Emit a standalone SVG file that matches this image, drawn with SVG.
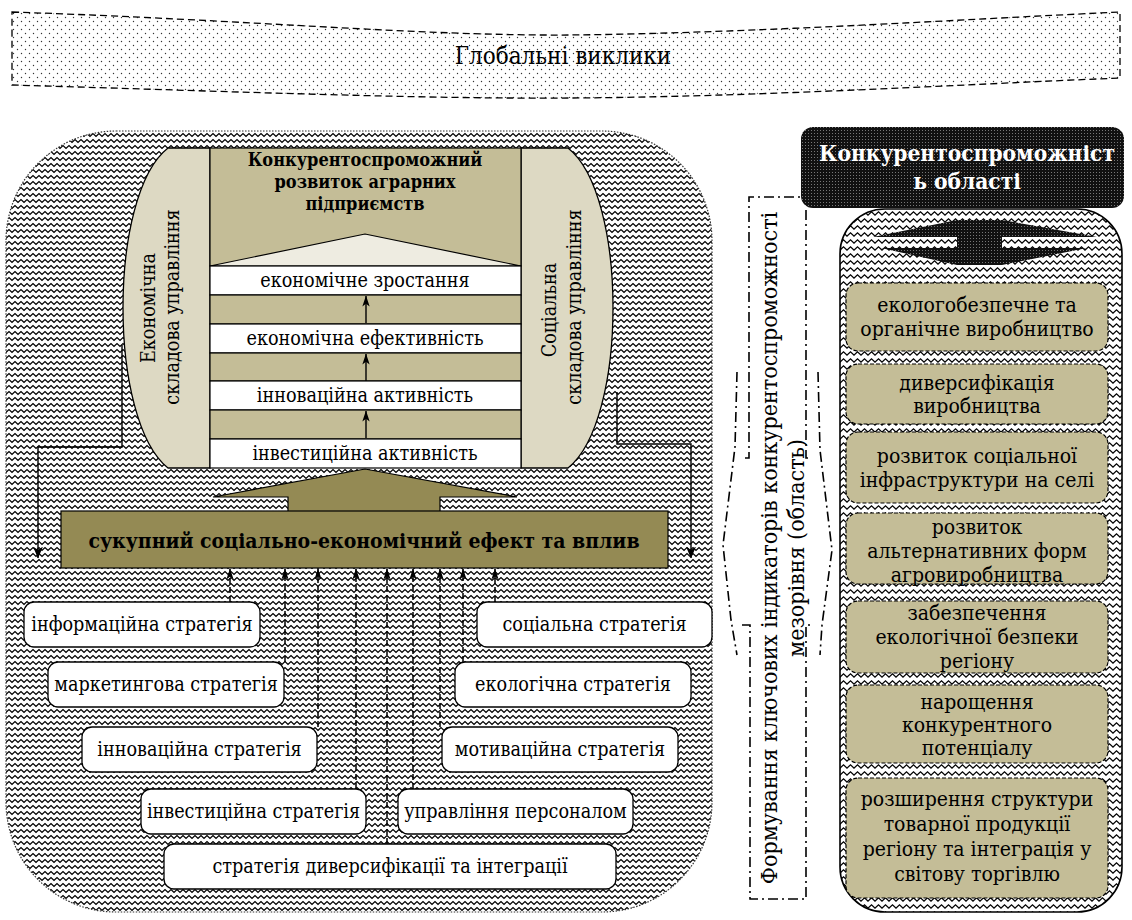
<svg xmlns="http://www.w3.org/2000/svg" width="1132" height="920" viewBox="0 0 1132 920" font-family="'DejaVu Serif Condensed', 'DejaVu Serif', serif">
<defs>
<style>
.t22{font-size:21px}
.tl{font-size:19.6px}
.b{font-weight:bold}
.mid{text-anchor:middle}
.strat{fill:#fff;stroke:#000;stroke-width:1.3}
.row{fill:#fff;stroke:#000;stroke-width:1.2}
.tan{fill:#c4bd97;stroke:#000;stroke-width:1.2}
.pill{fill:#ddd9c3;stroke:#000;stroke-width:1.3}
.rbox{fill:#c4bd97;stroke:#000;stroke-width:1.2;stroke-dasharray:4 2}
.dash{fill:none;stroke:#000;stroke-width:1.5;stroke-dasharray:6 3}
.solid{fill:none;stroke:#000;stroke-width:1.4}
.dd{fill:none;stroke:#000;stroke-width:1.6;stroke-dasharray:10 4 2 4}
</style>
<pattern id="dots" width="8" height="8" patternUnits="userSpaceOnUse">
<rect width="8" height="8" fill="#fff"/>
<circle cx="1.5" cy="1.5" r="0.7" fill="#333"/>
<circle cx="5.5" cy="5.5" r="0.7" fill="#333"/>
</pattern>
<pattern id="waveL" width="6" height="6" patternUnits="userSpaceOnUse">
<rect width="6" height="6" fill="#fff"/>
<path d="M-1.5,2.8 L0,4.4 L3,1.6 L6,4.4 L7.5,2.8" fill="none" stroke="#000" stroke-width="1.2"/>
</pattern>
<pattern id="waveR" width="7" height="7" patternUnits="userSpaceOnUse">
<rect width="7" height="7" fill="#fff"/>
<path d="M-1.75,3.2 L0,5.1 L3.5,1.9 L7,5.1 L8.75,3.2" fill="none" stroke="#000" stroke-width="1.2"/>
</pattern>
<pattern id="dark" width="3" height="3" patternUnits="userSpaceOnUse">
<rect width="3" height="3" fill="#111"/>
<rect x="1" y="1" width="1" height="1" fill="#777"/>
</pattern>
<marker id="ah" viewBox="0 0 12 10" refX="11.5" refY="5" markerWidth="12" markerHeight="10" markerUnits="userSpaceOnUse" orient="auto">
<path d="M0,0 L12,5 L0,10 L3.5,5 Z" fill="#000"/>
</marker>
<marker id="ahs" viewBox="0 0 12 8" refX="11.5" refY="4" markerWidth="11" markerHeight="8" markerUnits="userSpaceOnUse" orient="auto">
<path d="M0,0 L12,4 L0,8 L3,4 Z" fill="#000"/>
</marker>
</defs>

<rect width="1132" height="920" fill="#fff"/>

<g id="banner">
<path d="M12,12 C250,20 420,36 570,35 C750,33 950,20 1120,12 L1120,78 C950,85 750,97 570,98 C420,99 250,92 12,85 Z" fill="url(#dots)" stroke="#000" stroke-width="1.3" stroke-dasharray="7 4"/>
<text x="563" y="64" text-anchor="middle" font-size="24">Глобальні виклики</text>
</g>

<g id="left-panel">
<rect x="6" y="131" width="706" height="781" rx="110" fill="url(#waveL)" stroke="#333" stroke-width="1.2" stroke-dasharray="1.5 1.5"/>
</g>

<g id="pillar-econ">
<path class="pill" d="M210,148 H168 C108,195 108,420 168,468 H210 Z"/>
<text class="tl mid" transform="translate(155,308) rotate(-90)">Економічна</text>
<text class="tl mid" transform="translate(179,307) rotate(-90)">складова управління</text>
</g>

<g id="pillar-social">
<path class="pill" d="M521,148 H568 C628,195 628,420 568,468 H521 Z"/>
<text class="tl mid" transform="translate(556,310) rotate(-90)">Соціальна</text>
<text class="tl mid" transform="translate(581,307) rotate(-90)">складова управління</text>
</g>

<g id="center-column">
<rect x="210" y="148" width="311" height="118" fill="#c4bd97" stroke="#000" stroke-width="1.2"/>
<text x="365" y="166" class="mid b" font-size="18">Конкурентоспроможний</text>
<text x="365" y="188" class="mid b" font-size="18">розвиток аграрних</text>
<text x="365" y="210" class="mid b" font-size="18">підприємств</text>
<polygon points="210,266 365,234 521,266" fill="#eeece1" stroke="#000" stroke-width="1.2"/>
<rect class="row" x="210" y="266" width="311" height="29"/>
<text x="365" y="287" class="tl mid">економічне зростання</text>
<rect class="tan" x="210" y="295" width="311" height="29"/>
<rect class="row" x="210" y="324" width="311" height="29"/>
<text x="365" y="345" class="tl mid">економічна ефективність</text>
<rect class="tan" x="210" y="353" width="311" height="28"/>
<rect class="row" x="210" y="381" width="311" height="29"/>
<text x="365" y="402" class="tl mid">інноваційна активність</text>
<rect class="tan" x="210" y="410" width="311" height="29"/>
<rect class="row" x="210" y="439" width="311" height="29"/>
<text x="365" y="460" class="tl mid">інвестиційна активність</text>
</g>

<g id="effect">
<polygon points="213,497 365,469 517,497 440,497 440,512 288,512 288,497" fill="#948a54" stroke="#000" stroke-width="1.2"/>
<rect x="61" y="511" width="607" height="57" fill="#948a54" stroke="#000" stroke-width="1.2"/>
<text x="364" y="548" class="mid b" font-size="21">сукупний соціально-економічний ефект та вплив</text>
</g>

<g id="strategies">
<g id="s-info"><rect class="strat" x="24" y="602" width="236" height="45" rx="10"/><text x="142" y="631" class="tl mid">інформаційна стратегія</text></g>
<g id="s-market"><rect class="strat" x="48" y="662" width="236" height="45" rx="10"/><text x="166" y="691" class="tl mid">маркетингова стратегія</text></g>
<g id="s-innov"><rect class="strat" x="82" y="727" width="235" height="45" rx="10"/><text x="199.5" y="756" class="tl mid">інноваційна стратегія</text></g>
<g id="s-invest"><rect class="strat" x="141" y="789" width="225" height="45" rx="10"/><text x="253.5" y="818" class="tl mid">інвестиційна стратегія</text></g>
<g id="s-divers"><rect class="strat" x="164" y="844" width="452" height="45" rx="10"/><text x="390" y="873" class="tl mid">стратегія диверсифікації та інтеграції</text></g>
<g id="s-social"><rect class="strat" x="477" y="602" width="235" height="45" rx="10"/><text x="594.5" y="631" class="tl mid">соціальна стратегія</text></g>
<g id="s-eco"><rect class="strat" x="455" y="662" width="236" height="45" rx="10"/><text x="573" y="691" class="tl mid">екологічна стратегія</text></g>
<g id="s-motiv"><rect class="strat" x="442" y="727" width="236" height="45" rx="10"/><text x="560" y="756" class="tl mid">мотиваційна стратегія</text></g>
<g id="s-staff"><rect class="strat" x="398" y="789" width="235" height="45" rx="10"/><text x="515.5" y="818" class="tl mid">управління персоналом</text></g>
</g>

<g id="middle-indicators">
<path class="dd" d="M745,458 H749 V197 H803 M806,210 V458 H811"/>
<path class="dd" d="M737,372 L735,447 L723,545 L731,620 L737,655"/>
<path class="dd" d="M818,372 L820,450 L832,550 L822,625 L820,655"/>
<path class="dd" d="M742,625 H750 V899 H806 V625 H814"/>
<text font-size="23" text-anchor="middle" transform="translate(777,548) rotate(-90)">Формування ключових індикаторів конкурентоспроможності</text>
<text font-size="23" text-anchor="middle" transform="translate(804,548) rotate(-90)">мезорівня (область)</text>
</g>

<g id="right-panel">
<rect x="840" y="209" width="282" height="703" rx="45" fill="url(#waveR)" stroke="#000" stroke-width="1.6"/>
</g>

<g id="region-header">
<rect x="801" y="127" width="323" height="81" rx="12" fill="url(#dark)"/>
<text x="967" y="161" class="mid b" font-size="22.5" fill="#fff">Конкурентоспроможніст</text>
<text x="967" y="189" class="mid b" font-size="22.5" fill="#fff">ь області</text>
</g>

<g id="double-arrow" fill="url(#dark)">
<polygon points="873,237 957,220 957,237"/>
<polygon points="881,248 957,248 957,265"/>
<rect x="957" y="220" width="45" height="45"/>
<polygon points="1002,220 1097,237 1002,237"/>
<polygon points="1002,248 1087,248 1002,265"/>
</g>

<g id="right-boxes">
<g id="r1"><rect class="rbox" x="846" y="283" width="262" height="68" rx="12"/><text x="977" y="312" class="t22 mid">екологобезпечне та</text><text x="977" y="336" class="t22 mid">органічне виробництво</text></g>
<g id="r2"><rect class="rbox" x="846" y="364" width="262" height="60" rx="12"/><text x="977" y="390" class="t22 mid">диверсифікація</text><text x="977" y="413" class="t22 mid">виробництва</text></g>
<g id="r3"><rect class="rbox" x="846" y="432" width="262" height="71" rx="12"/><text x="977" y="463" class="t22 mid">розвиток соціальної</text><text x="977" y="487" class="t22 mid">інфраструктури на селі</text></g>
<g id="r4"><rect class="rbox" x="846" y="513" width="262" height="71" rx="12"/><text x="977" y="534" class="t22 mid">розвиток</text><text x="977" y="558" class="t22 mid">альтернативних форм</text><text x="977" y="582" class="t22 mid">агровиробництва</text></g>
<g id="r5"><rect class="rbox" x="846" y="601" width="262" height="72" rx="12"/><text x="977" y="620" class="t22 mid">забезпечення</text><text x="977" y="644" class="t22 mid">екологічної безпеки</text><text x="977" y="668" class="t22 mid">регіону</text></g>
<g id="r6"><rect class="rbox" x="846" y="685" width="262" height="78" rx="12"/><text x="977" y="709" class="t22 mid">нарощення</text><text x="977" y="732" class="t22 mid">конкурентного</text><text x="977" y="755" class="t22 mid">потенціалу</text></g>
<g id="r7"><rect class="rbox" x="846" y="778" width="262" height="120" rx="12"/><text x="977" y="806" class="t22 mid">розширення структури</text><text x="977" y="831" class="t22 mid">товарної продукції</text><text x="977" y="856" class="t22 mid">регіону та інтеграція у</text><text x="977" y="881" class="t22 mid">світову торгівлю</text></g>
</g>

<g id="connectors">
<path class="solid" d="M366,323 V296" marker-end="url(#ahs)"/>
<path class="solid" d="M366,381 V354" marker-end="url(#ahs)"/>
<path class="solid" d="M366,438 V411" marker-end="url(#ahs)"/>
<path class="solid" d="M122,345 V447 H38 V558" marker-end="url(#ah)"/>
<path class="solid" d="M617,392 V444 H691 V558" marker-end="url(#ah)"/>
<path class="dash" d="M230,602 V569" marker-end="url(#ahs)"/>
<path class="dash" d="M285,662 V569" marker-end="url(#ahs)"/>
<path class="dash" d="M318,727 V569" marker-end="url(#ahs)"/>
<path class="dash" d="M356,789 V569" marker-end="url(#ahs)"/>
<path class="dash" d="M387,844 V569" marker-end="url(#ahs)"/>
<path class="dash" d="M413,789 V569" marker-end="url(#ahs)"/>
<path class="dash" d="M440,727 V569" marker-end="url(#ahs)"/>
<path class="dash" d="M463,662 V569" marker-end="url(#ahs)"/>
<path class="dash" d="M495,602 V569" marker-end="url(#ahs)"/>
</g>
</svg>
